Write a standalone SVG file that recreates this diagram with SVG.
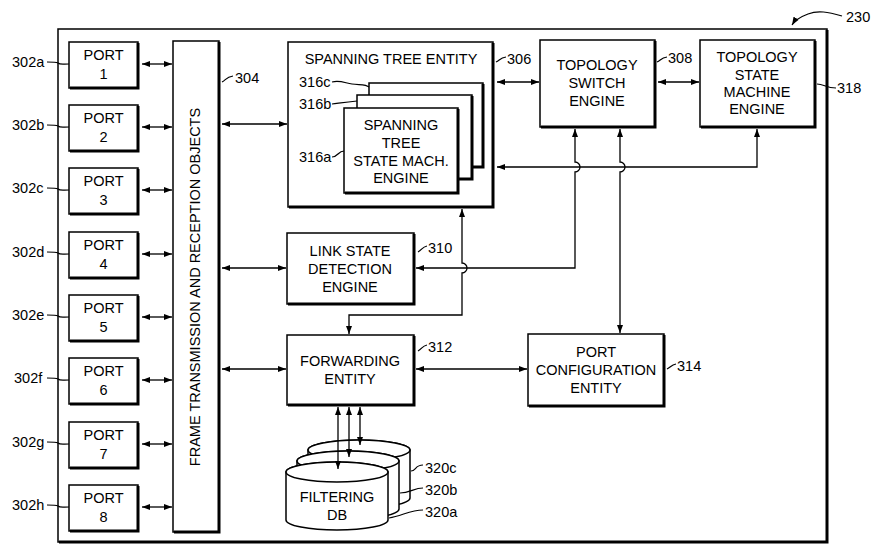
<svg xmlns="http://www.w3.org/2000/svg" width="873" height="547" viewBox="0 0 873 547">
<style>
text{font-family:"Liberation Sans",Arial,sans-serif;font-size:14.5px;fill:#000}
.c{text-anchor:middle}
.box{fill:#fff;stroke:#000;stroke-width:1.5}
.sh{fill:none;stroke:#000;stroke-width:3}
.ln{fill:none;stroke:#000;stroke-width:1.3}
.ld{fill:none;stroke:#000;stroke-width:1.2}
.bi{marker-start:url(#ah);marker-end:url(#ah)}
</style>
<defs>
<marker id="ah" markerUnits="userSpaceOnUse" markerWidth="9" markerHeight="7" refX="8" refY="3.5" orient="auto-start-reverse">
<path d="M0,0.5 L8,3.5 L0,6.5 z" fill="#000"/>
</marker>
</defs>
<rect width="873" height="547" fill="#fff"/>

<g id="frame230">
<rect class="box" x="58" y="29" width="769" height="513" fill="none"/>
<path class="sh" d="M827,30 V542 H59"/>
<path class="ld" d="M842,16 C828,12 818,10 808,14 C800,17 795,20 792,25" marker-end="url(#ah)"/>
<text x="846" y="22">230</text>
</g>

<g id="ports">
<g id="port1"><rect class="box" x="69" y="42" width="69" height="46"/><path class="sh" d="M138,43 V88 H70"/><text class="c" x="103.5" y="60">PORT</text><text class="c" x="103.5" y="79">1</text><path class="ld" d="M47,62 C54,62 56,62 58,63 C60,65 63,64 69,64"/><text x="12" y="67">302a</text></g>
<g id="port2"><rect class="box" x="69" y="105" width="69" height="46"/><path class="sh" d="M138,106 V151 H70"/><text class="c" x="103.5" y="123">PORT</text><text class="c" x="103.5" y="142">2</text><path class="ld" d="M47,125 C54,125 56,125 58,126 C60,128 63,127 69,127"/><text x="12" y="130">302b</text></g>
<g id="port3"><rect class="box" x="69" y="168" width="69" height="46"/><path class="sh" d="M138,169 V214 H70"/><text class="c" x="103.5" y="186">PORT</text><text class="c" x="103.5" y="205">3</text><path class="ld" d="M47,188 C54,188 56,188 58,189 C60,191 63,190 69,190"/><text x="12" y="193">302c</text></g>
<g id="port4"><rect class="box" x="69" y="232" width="69" height="46"/><path class="sh" d="M138,233 V278 H70"/><text class="c" x="103.5" y="250">PORT</text><text class="c" x="103.5" y="269">4</text><path class="ld" d="M47,252 C54,252 56,252 58,253 C60,255 63,254 69,254"/><text x="12" y="257">302d</text></g>
<g id="port5"><rect class="box" x="69" y="295" width="69" height="46"/><path class="sh" d="M138,296 V341 H70"/><text class="c" x="103.5" y="313">PORT</text><text class="c" x="103.5" y="332">5</text><path class="ld" d="M47,315 C54,315 56,315 58,316 C60,318 63,317 69,317"/><text x="12" y="320">302e</text></g>
<g id="port6"><rect class="box" x="69" y="358" width="69" height="46"/><path class="sh" d="M138,359 V404 H70"/><text class="c" x="103.5" y="376">PORT</text><text class="c" x="103.5" y="395">6</text><path class="ld" d="M47,378 C54,378 56,378 58,379 C60,381 63,380 69,380"/><text x="14" y="383">302f</text></g>
<g id="port7"><rect class="box" x="69" y="422" width="69" height="46"/><path class="sh" d="M138,423 V468 H70"/><text class="c" x="103.5" y="440">PORT</text><text class="c" x="103.5" y="459">7</text><path class="ld" d="M47,442 C54,442 56,442 58,443 C60,445 63,444 69,444"/><text x="12" y="447">302g</text></g>
<g id="port8"><rect class="box" x="69" y="485" width="69" height="46"/><path class="sh" d="M138,486 V531 H70"/><text class="c" x="103.5" y="503">PORT</text><text class="c" x="103.5" y="522">8</text><path class="ld" d="M47,505 C54,505 56,505 58,506 C60,508 63,507 69,507"/><text x="12" y="510">302h</text></g>
</g>

<g id="ftro">
<rect class="box" x="173" y="41" width="46" height="491"/>
<path class="sh" d="M219,42 V532 H174"/>
<text class="c" transform="translate(200,287) rotate(-90)">FRAME TRANSMISSION AND RECEPTION OBJECTS</text>
<path class="ld" d="M222,82 C226,80 226,77 233,76"/>
<text x="235" y="83">304</text>
</g>

<g id="ste">
<rect class="box" x="288" y="42" width="205" height="165"/>
<path class="sh" d="M493,43 V207 H289"/>
<text class="c" x="391" y="64">SPANNING TREE ENTITY</text>
<path class="ld" d="M496,62 C500,60 500,58 506,57"/>
<text x="507" y="64">306</text>
</g>

<g id="stsme316c">
<rect class="box" x="369" y="83" width="114" height="84"/>
<path class="sh" d="M483,84 V167 H370"/>
<path class="ld" d="M332,82 C340,80 345,83 352,84 C360,85 366,84 369,87"/>
<text x="299" y="87">316c</text>
</g>
<g id="stsme316b">
<rect class="box" x="357" y="95" width="115" height="84"/>
<path class="sh" d="M472,96 V179 H358"/>
<path class="ld" d="M332,104 C340,103 346,102 357,101"/>
<text x="299" y="109">316b</text>
</g>
<g id="stsme316a">
<rect class="box" x="344" y="108" width="114" height="85"/>
<path class="sh" d="M458,109 V193 H345"/>
<text class="c" x="401" y="130">SPANNING</text>
<text class="c" x="401" y="148">TREE</text>
<text class="c" x="401" y="166">STATE MACH.</text>
<text class="c" x="401" y="183">ENGINE</text>
<path class="ld" d="M332,157 C338,157 338,151 344,151"/>
<text x="299" y="162">316a</text>
</g>

<g id="tse">
<rect class="box" x="540" y="40" width="115" height="87"/>
<path class="sh" d="M655,41 V127 H541"/>
<text class="c" x="597" y="70">TOPOLOGY</text>
<text class="c" x="597" y="88">SWITCH</text>
<text class="c" x="597" y="106">ENGINE</text>
<path class="ld" d="M657,62 C661,60 661,58 667,57"/>
<text x="668" y="63">308</text>
</g>

<g id="tsme">
<rect class="box" x="700" y="40" width="115" height="87"/>
<path class="sh" d="M815,41 V127 H701"/>
<text class="c" x="757" y="62">TOPOLOGY</text>
<text class="c" x="757" y="80">STATE</text>
<text class="c" x="757" y="97">MACHINE</text>
<text class="c" x="757" y="114">ENGINE</text>
<path class="ld" d="M817,84 C824,84 826,88 836,88"/>
<text x="837" y="93">318</text>
</g>

<g id="lsde">
<rect class="box" x="287" y="233" width="127" height="71"/>
<path class="sh" d="M414,234 V304 H288"/>
<text class="c" x="350" y="256">LINK STATE</text>
<text class="c" x="350" y="274">DETECTION</text>
<text class="c" x="350" y="292">ENGINE</text>
<path class="ld" d="M418,252 C422,250 422,247 427,246"/>
<text x="428" y="253">310</text>
</g>

<g id="fe">
<rect class="box" x="287" y="335" width="127" height="70"/>
<path class="sh" d="M414,336 V405 H288"/>
<text class="c" x="350" y="366">FORWARDING</text>
<text class="c" x="350" y="384">ENTITY</text>
<path class="ld" d="M418,351 C422,349 422,346 427,345"/>
<text x="428" y="352">312</text>
</g>

<g id="pce">
<rect class="box" x="528" y="334" width="136" height="72"/>
<path class="sh" d="M664,335 V406 H529"/>
<text class="c" x="596" y="357">PORT</text>
<text class="c" x="596" y="375">CONFIGURATION</text>
<text class="c" x="596" y="393">ENTITY</text>
<path class="ld" d="M667,369 C671,367 671,365 676,364"/>
<text x="677" y="371">314</text>
</g>

<g id="fdb320c">
<path class="box" d="M308,450 V498 A51,10 0 0 0 410,498 V450 A51,10 0 0 0 308,450 Z"/>
<ellipse class="box" cx="359" cy="450" rx="51" ry="10"/>
<path class="ld" d="M411,471 C416,471 415,465 423,465"/>
<text x="425" y="473">320c</text>
</g>
<g id="fdb320b">
<path class="box" d="M297,461 V509 A51,10 0 0 0 399,509 V461 A51,10 0 0 0 297,461 Z"/>
<ellipse class="box" cx="348" cy="461" rx="51" ry="10"/>
<path class="ld" d="M400,493 C410,493 414,488 423,488"/>
<text x="425" y="495">320b</text>
</g>
<g id="fdb320a">
<path class="box" d="M286,472 V520 A51,10 0 0 0 388,520 V472 A51,10 0 0 0 286,472 Z"/>
<ellipse class="box" cx="337" cy="472" rx="51" ry="10"/>
<text class="c" x="337" y="502">FILTERING</text>
<text class="c" x="337" y="520">DB</text>
<path class="ld" d="M389,518 C402,516 410,510 423,510"/>
<text x="425" y="517">320a</text>
</g>

<g id="connectors">
<path class="ln bi" d="M142,64 H172"/>
<path class="ln bi" d="M142,127 H172"/>
<path class="ln bi" d="M142,190 H172"/>
<path class="ln bi" d="M142,254 H172"/>
<path class="ln bi" d="M142,317 H172"/>
<path class="ln bi" d="M142,380 H172"/>
<path class="ln bi" d="M142,444 H172"/>
<path class="ln bi" d="M142,507 H172"/>
<path class="ln bi" d="M222,124 H287"/>
<path class="ln bi" d="M222,268 H286"/>
<path class="ln bi" d="M222,369 H286"/>
<path class="ln bi" d="M497,82 H539"/>
<path class="ln bi" d="M658,82 H699"/>
<path class="ln bi" d="M757,129 V167 H497"/>
<path class="ln bi" d="M575,129 V162 A5,5 0 0 1 575,172 V268 H416"/>
<path class="ln bi" d="M620,129 V162 A5,5 0 0 1 620,172 V333"/>
<path class="ln bi" d="M462,209 V263 A5,5 0 0 1 462,273 V315 H349 V334"/>
<path class="ln bi" d="M416,369 H527"/>
<path class="ln bi" d="M338,407 V469"/>
<path class="ln bi" d="M349,407 V457"/>
<path class="ln bi" d="M360,407 V445"/>
</g>
</svg>
